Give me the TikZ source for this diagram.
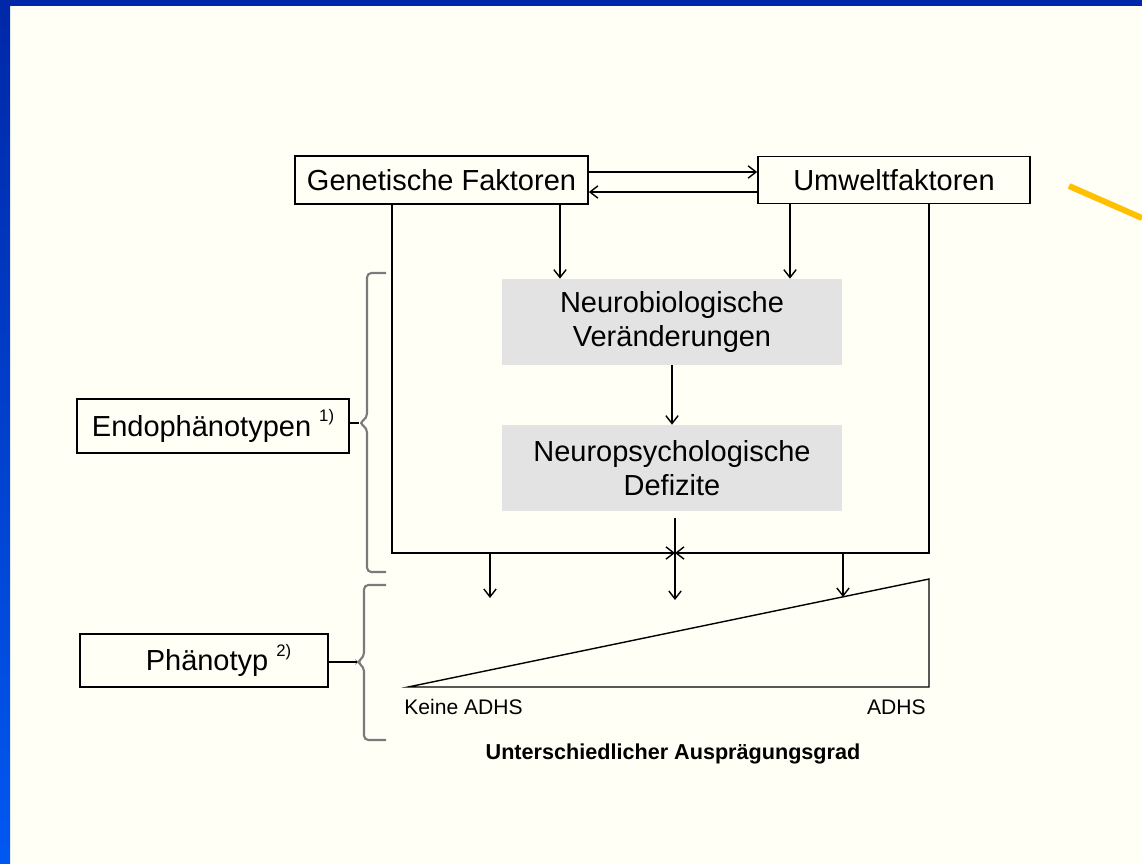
\documentclass[tikz,border=0pt]{standalone}
\usepackage{fontspec}
\setmainfont{Liberation Sans}
\usetikzlibrary{arrows.meta}
\definecolor{slidebg}{HTML}{FFFFF6}
\definecolor{slidedark}{HTML}{0028A8}
\definecolor{slidelight}{HTML}{0058F2}
\definecolor{boxgrey}{HTML}{E3E3E3}
\definecolor{bracegrey}{HTML}{7A7A7A}
\definecolor{accent}{HTML}{FFC000}
\newcommand{\fnmark}[1]{\raisebox{0.5em}{\fontsize{9.5}{10}\selectfont #1}}

\begin{document}
\begin{tikzpicture}[x=0.02cm, y=-0.02cm, >={Straight Barb[length=4.5pt,width=7pt]},
    factor/.style={draw=black, line width=1pt, inner sep=0pt, font=\fontsize{16.5}{19}\selectfont},
    stage/.style={fill=boxgrey, inner sep=0pt, minimum width=6.8cm, minimum height=1.72cm, align=center, font=\fontsize{16.5}{19.5}\selectfont},
    link/.style={line width=0.8pt},
    brace/.style={draw=bracegrey, line width=1.2pt, rounded corners=2.5pt},
    small/.style={inner sep=0pt, font=\fontsize{12}{14}\selectfont}]
    % slide frame
    \useasboundingbox (0,0) rectangle (1142,863);
    \fill[slidebg] (0,0) rectangle (1142,863);
    \fill[top color=slidedark, bottom color=slidelight] (0,0) rectangle (10,863);
    \fill[slidedark] (0,0) rectangle (1142,6);
    \draw[accent, line width=3.4pt] (1069,186) -- (1142,218);

    \node[factor, minimum width=5.86cm, minimum height=0.96cm] (gen) at (441.5,180) {Genetische Faktoren};
    \node[factor, minimum width=5.44cm, minimum height=0.94cm] (umw) at (894,180) {Umweltfaktoren};
    \node[stage] (neurobio) at (672,322) {Neurobiologische\\Veränderungen};
    \node[stage] (neuropsych) at (672,468) {Neuropsychologische\\Defizite};
    \node[factor, minimum width=5.44cm, minimum height=1.08cm] (endo) at (213,426) {Endophänotypen \fnmark{1)}};
    \node[factor, minimum width=4.96cm, minimum height=1.06cm] (phaeno) at (204,660.5) {\hspace{1em}Phänotyp \fnmark{2)}};

    \coordinate (gcol) at (560,0);
    \coordinate (ucol) at (790,0);
    \coordinate (genL) at (392,553);
    \coordinate (umwR) at (929,553);
    \coordinate (join) at (675,553);
    \coordinate (low) at (675,600);
    \coordinate (tipL) at (490,598);
    \coordinate (tipR) at (843,597);
    \coordinate (keine) at (408,687);
    \coordinate (adhsB) at (929,687);
    \coordinate (adhsT) at (929,579);
    \coordinate (endoTip) at (359,423);
    \coordinate (phaenoTip) at (357,662);

    \draw[link, ->] ([yshift=0.16cm]gen.east) -- ([yshift=0.16cm]umw.west);
    \draw[link, ->] ([yshift=-0.24cm]umw.west) -- ([yshift=-0.24cm]gen.east);
    \draw[link, ->] (gen.south -| gcol) -- (neurobio.north -| gcol);
    \draw[link, ->] (umw.south -| ucol) -- (neurobio.north -| ucol);
    \draw[link, ->] (neurobio) -- (neuropsych);

    \draw[link, ->] (gen.south -| genL) -- (genL) -- (join);
    \draw[link, ->] (umw.south -| umwR) -- (umwR) -- (join);
    \draw[link, ->, shorten <=4pt] (neuropsych.south -| join) -- (low);
    \draw[link, ->] (tipL |- join) -- (tipL);
    \draw[link, ->] (tipR |- join) -- (tipR);
    \draw[link] (keine) -- (adhsB) -- (adhsT) -- cycle;

    % braces
    \draw[brace] (386,273) -- (367,273) -- (367,418) -- (endoTip) -- (367,428) -- (367,572) -- (386,572);
    \draw[brace] (386,585) -- (364,585) -- (364,657) -- (phaenoTip) -- (364,667) -- (364,740) -- (386,740);
    \draw[link] (endo.east |- endoTip) -- (endoTip);
    \draw[link] (phaeno.east |- phaenoTip) -- (phaenoTip);

    \node[small, anchor=west] (keineTxt) at (404,707) {Keine ADHS};
    \node[small, anchor=east] (adhsTxt) at (926,707) {ADHS};
    \node[small, font=\bfseries\fontsize{12.3}{14}\selectfont] (grad) at (673,754) {Unterschiedlicher Ausprägungsgrad};
\end{tikzpicture}
\end{document}
